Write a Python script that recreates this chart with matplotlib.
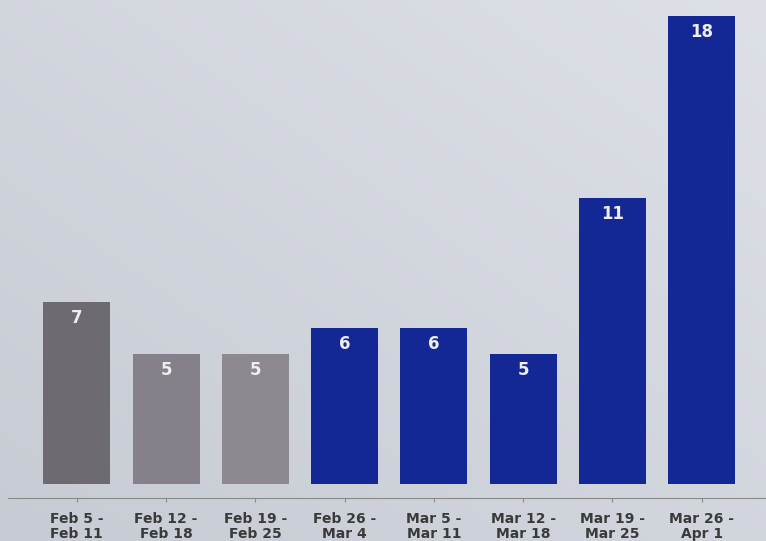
import matplotlib.pyplot as plt
from matplotlib.colors import LinearSegmentedColormap
import numpy as np

weeks = ["Feb 5 -\nFeb 11", "Feb 12 -\nFeb 18", "Feb 19 -\nFeb 25", "Feb 26 -\nMar 4",
         "Mar 5 -\nMar 11", "Mar 12 -\nMar 18", "Mar 19 -\nMar 25", "Mar 26 -\nApr 1"]
counts = [7, 5, 5, 6, 6, 5, 11, 18]
bar_colors = ["#6d6a72", "#85808a", "#8e8990", "#132795",
              "#132795", "#132795", "#132795", "#132795"]

fig = plt.figure(figsize=(7.66, 5.41), dpi=100)

# soft background, slightly lighter towards the top right
bg = fig.add_axes([0, 0, 1, 1], zorder=-1)
yy, xx = np.mgrid[0:1:200j, 0:1:200j]
shade = 0.5 * yy + 0.5 * xx
bg_cmap = LinearSegmentedColormap.from_list("bg", ["#c7cbd3", "#dde0e7"])
bg.imshow(shade, cmap=bg_cmap, origin="lower", extent=[0, 1, 0, 1], aspect="auto")
bg.axis("off")

ax = fig.add_axes([8 / 766, 43 / 541, 1 - 8 / 766, 1 - 43 / 541])
ax.patch.set_alpha(0)

x = np.arange(len(counts))
bars = ax.bar(x, counts, width=0.75, color=bar_colors)

for rect, c in zip(bars, counts):
    ax.annotate(str(c), (rect.get_x() + rect.get_width() / 2, rect.get_height()),
                xytext=(0, -5), textcoords="offset points", ha="center", va="top",
                color="#eeeeee", fontsize=12, fontweight="bold")

ax.set_xlim(-0.77, 7.72)
ax.set_ylim(-0.54, 18.6)
ax.set_xticks(x)
ax.set_xticklabels(weeks, fontsize=10, fontweight="bold", color="#3a3a3a",
                   linespacing=1.1)
ax.tick_params(axis="x", length=3, color="#8a8a8a", pad=7)
ax.set_yticks([])
for side in ["top", "right", "left"]:
    ax.spines[side].set_visible(False)
ax.spines["bottom"].set_color("#8a8a8a")

fig.savefig("out.png", dpi=100)
